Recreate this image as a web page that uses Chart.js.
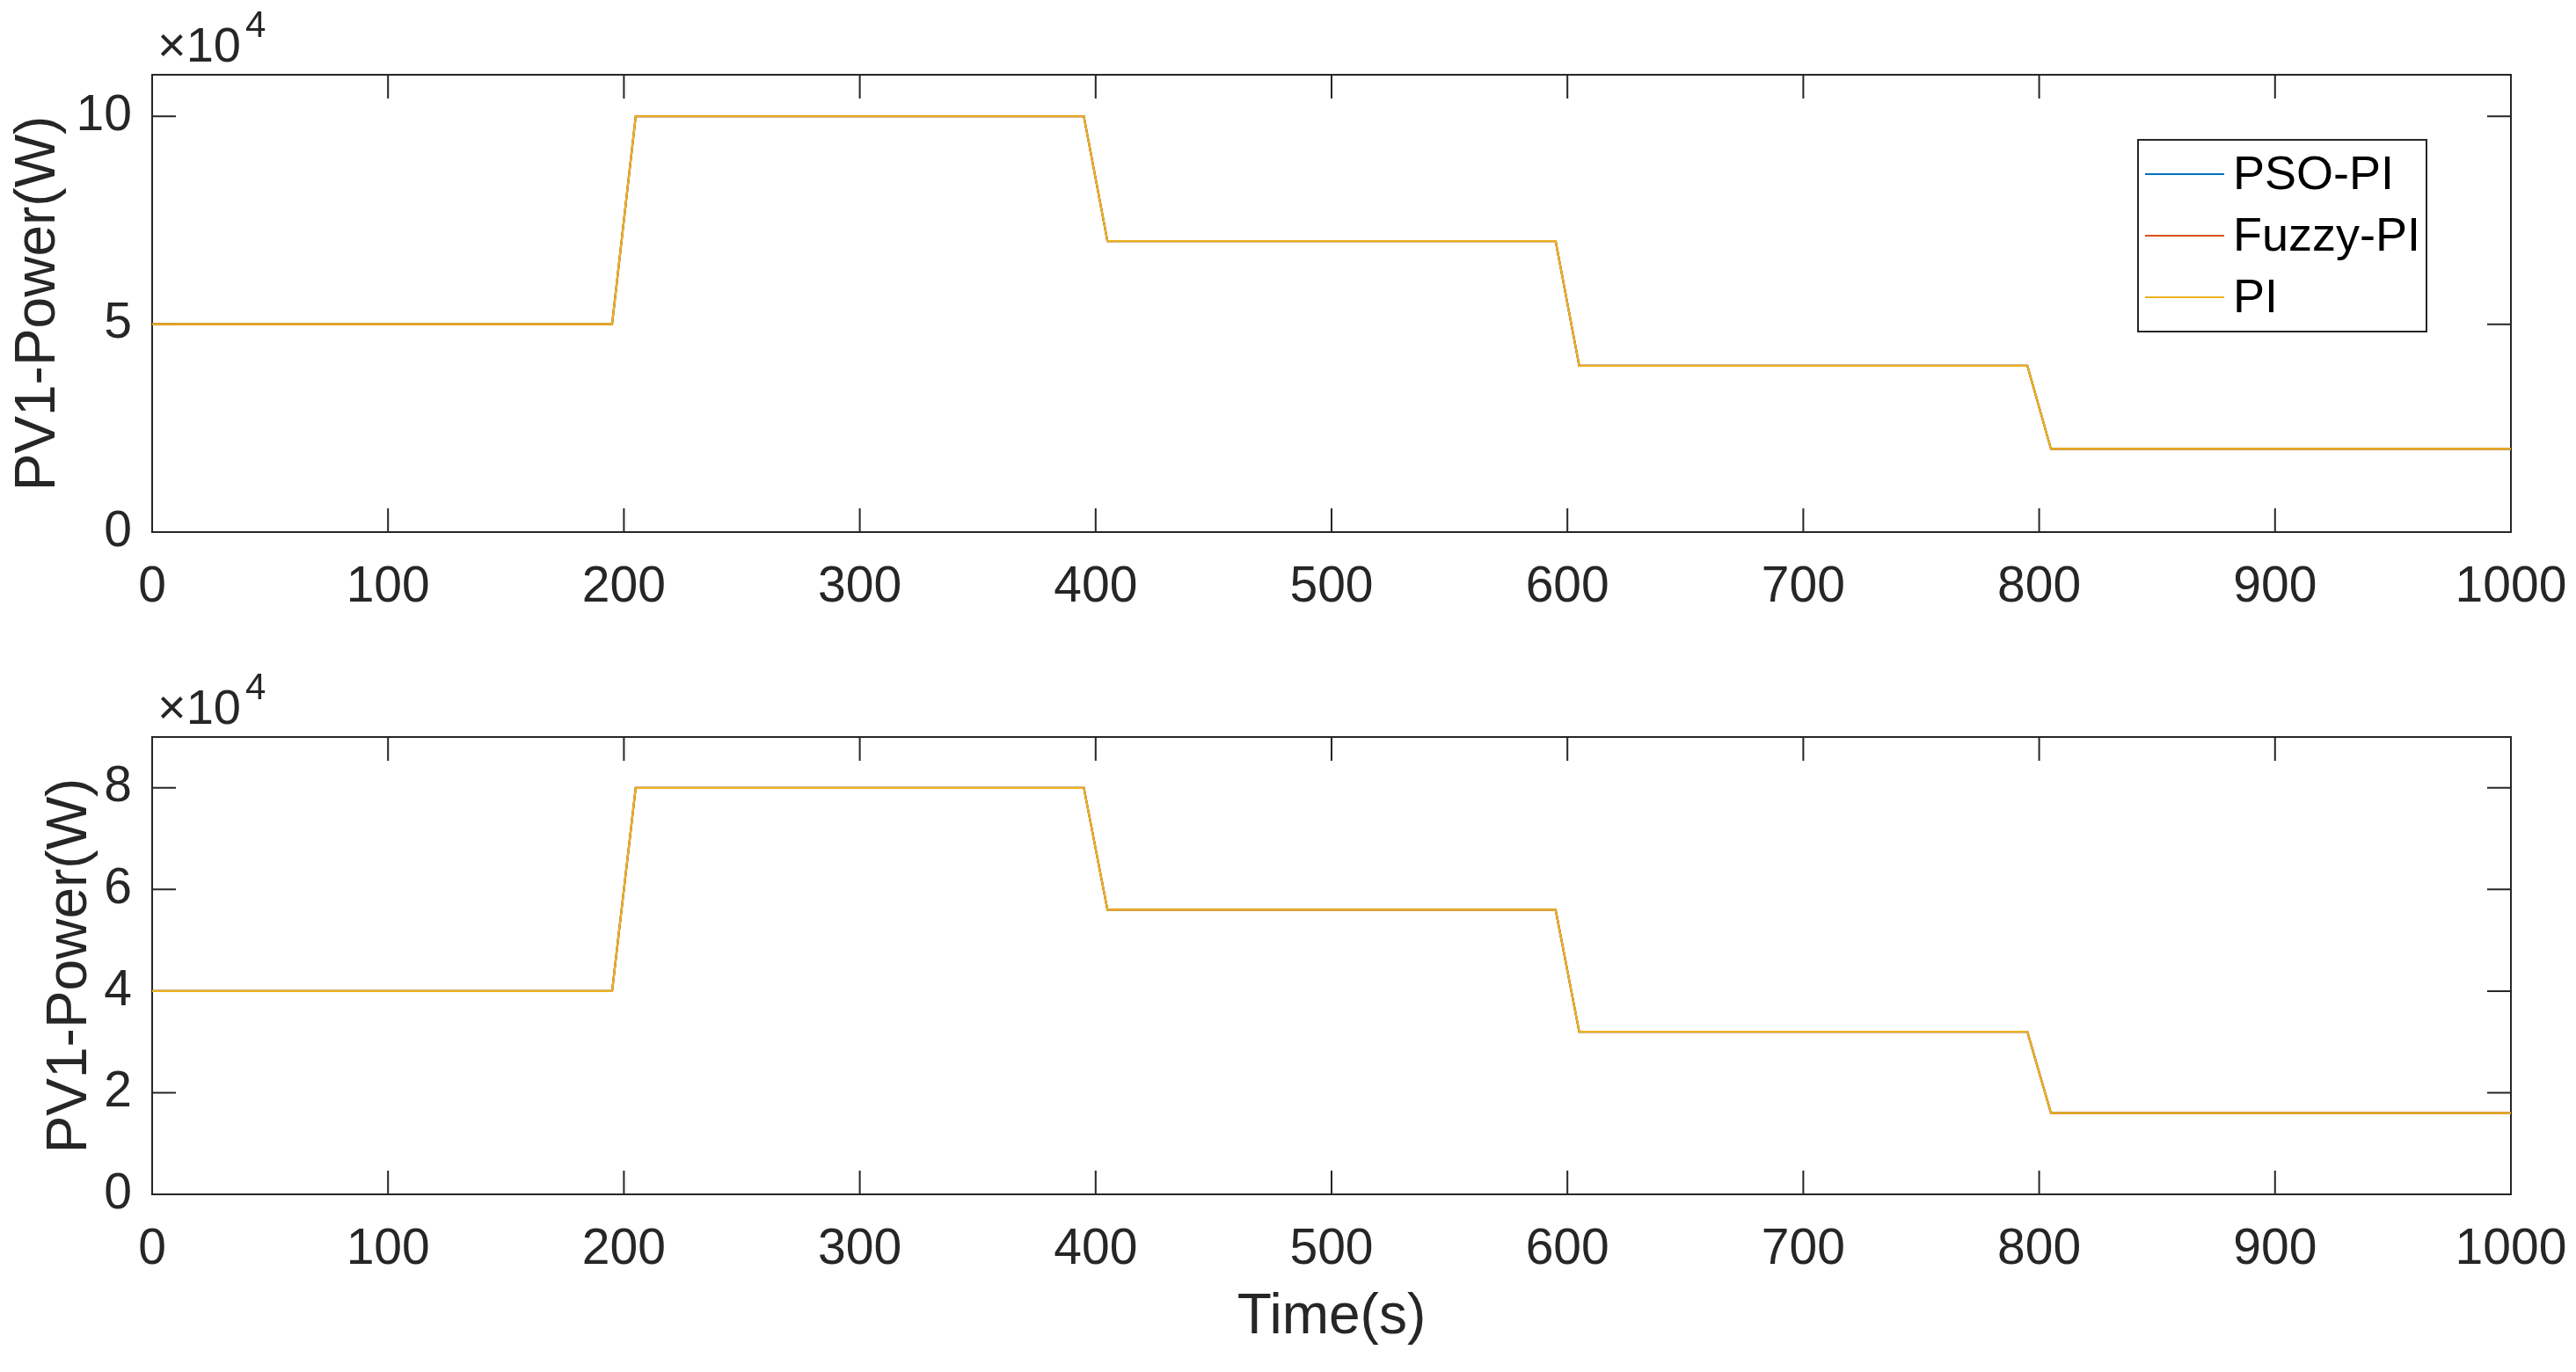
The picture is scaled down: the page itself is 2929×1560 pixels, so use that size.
<!DOCTYPE html>
<html>
<head>
<meta charset="utf-8">
<title>PV1 Power</title>
<script src="https://cdn.jsdelivr.net/npm/chart.js@4.4.1/dist/chart.umd.min.js"></script>
<style>
  html, body { margin: 0; padding: 0; background: #fff; }
  #wrap { position: relative; width: 2929px; height: 1560px; background: #fff; }
  canvas { position: absolute; left: 0; }
  #top-chart { top: 0; }
  #bottom-chart { top: 760px; }
</style>
</head>
<body>
<div id="wrap">
  <canvas id="top-chart" width="2929" height="760"></canvas>
  <canvas id="bottom-chart" width="2929" height="800"></canvas>
</div>
<script>
// time points (s) where the power steps start and finish
const timeSteps = [0, 195, 205, 395, 405, 595, 605, 795, 805, 1000];

// upper plot, power in W
const psoTop   = [50000, 50000, 100000, 100000, 70000, 70000, 40000, 40000, 20000, 20000];
const fuzzyTop = [50000, 50000, 100000, 100000, 70000, 70000, 40000, 40000, 20000, 20000];
const piTop    = [50000, 50000, 100000, 100000, 70000, 70000, 40000, 40000, 20000, 20000];

// lower plot, power in W
const psoBottom   = [40000, 40000, 80000, 80000, 56000, 56000, 32000, 32000, 16000, 16000];
const fuzzyBottom = [40000, 40000, 80000, 80000, 56000, 56000, 32000, 32000, 16000, 16000];
const piBottom    = [40000, 40000, 80000, 80000, 56000, 56000, 32000, 32000, 16000, 16000];

const seriesNames = ['PSO-PI', 'Fuzzy-PI', 'PI'];
const seriesColors = ['#0072BD', '#D95319', '#EDB120'];

// tick labels (y ticks are in units of 10^4 W)
const xTicks = [0, 100, 200, 300, 400, 500, 600, 700, 800, 900, 1000];
const yTicksTop = [0, 5, 10];
const yTicksBottom = [0, 2, 4, 6, 8];

const AXIS_COLOR = '#262626';
const FONT = '"Liberation Sans", Arial, Helvetica, sans-serif';
const TICK_LEN = 27;

function toPoints(values) {
  return timeSteps.map((t, i) => ({ x: t, y: values[i] }));
}

function makeDatasets(seriesList) {
  // PI is drawn last so it sits on top, like in the original figure
  return seriesList.map((values, i) => ({
    label: seriesNames[i],
    data: toPoints(values),
    borderColor: seriesColors[i],
    backgroundColor: seriesColors[i],
    borderWidth: 2.2,
    pointRadius: 0,
    tension: 0,
    fill: false,
    order: seriesList.length - i
  }));
}

// box, inward ticks on all four sides, the x10^4 note and the legend
const matlabAxes = {
  id: 'matlabAxes',
  beforeDatasetsDraw(chart) {
    const { ctx, chartArea: a, scales: { x, y } } = chart;
    ctx.save();
    ctx.strokeStyle = AXIS_COLOR;
    ctx.lineWidth = 2;
    ctx.beginPath();
    x.ticks.forEach(t => {
      const px = x.getPixelForValue(t.value);
      ctx.moveTo(px, a.bottom);
      ctx.lineTo(px, a.bottom - TICK_LEN);
      ctx.moveTo(px, a.top);
      ctx.lineTo(px, a.top + TICK_LEN);
    });
    y.ticks.forEach(t => {
      const py = y.getPixelForValue(t.value);
      ctx.moveTo(a.left, py);
      ctx.lineTo(a.left + TICK_LEN, py);
      ctx.moveTo(a.right, py);
      ctx.lineTo(a.right - TICK_LEN, py);
    });
    ctx.stroke();
    ctx.strokeRect(a.left, a.top, a.right - a.left, a.bottom - a.top);
    ctx.restore();
  },
  afterDraw(chart, args, opts) {
    const { ctx, chartArea: a } = chart;
    ctx.save();
    ctx.fillStyle = AXIS_COLOR;
    ctx.textBaseline = 'alphabetic';
    ctx.textAlign = 'left';

    // exponent label above the y axis
    ctx.font = '56px ' + FONT;
    const baseX = a.left + 6;
    const baseY = a.top - 15;
    ctx.fillText('\u00d710', baseX, baseY);
    const w = ctx.measureText('\u00d710').width;
    ctx.font = '42px ' + FONT;
    ctx.fillText(opts.exponent, baseX + w + 5, baseY - 28);

    if (opts.legend) {
      const bx = a.right - 424;
      const by = a.top + 74;
      const bw = 328;
      const bh = 218;
      ctx.fillStyle = '#fff';
      ctx.fillRect(bx, by, bw, bh);
      ctx.strokeStyle = AXIS_COLOR;
      ctx.lineWidth = 2;
      ctx.strokeRect(bx, by, bw, bh);
      ctx.font = '54px ' + FONT;
      ctx.textBaseline = 'middle';
      chart.data.datasets.forEach((ds, i) => {
        const ly = by + 39 + i * 70;
        ctx.strokeStyle = ds.borderColor;
        ctx.lineWidth = 2.2;
        ctx.beginPath();
        ctx.moveTo(bx + 8, ly);
        ctx.lineTo(bx + 98, ly);
        ctx.stroke();
        ctx.fillStyle = '#000';
        ctx.fillText(ds.label, bx + 108, ly + 2);
      });
    }
    ctx.restore();
  }
};

function makeChart(canvasId, seriesList, yMax, yTickList, cfg) {
  const canvas = document.getElementById(canvasId);
  return new Chart(canvas, {
    type: 'line',
    data: { datasets: makeDatasets(seriesList) },
    plugins: [matlabAxes],
    options: {
      responsive: false,
      animation: false,
      devicePixelRatio: 1,
      layout: { padding: { top: cfg.padTop, right: 74, left: 0, bottom: 0 } },
      plugins: {
        legend: { display: false },
        tooltip: { enabled: false },
        matlabAxes: { exponent: '4', legend: cfg.legend }
      },
      scales: {
        x: {
          type: 'linear',
          min: 0,
          max: 1000,
          afterBuildTicks: scale => { scale.ticks = xTicks.map(v => ({ value: v })); },
          afterFit: scale => {
            scale.height = cfg.xHeight;
            scale.paddingLeft = 0;
            scale.paddingRight = 0;
          },
          grid: { display: false, drawTicks: false },
          border: { display: false },
          ticks: {
            padding: 29,
            maxRotation: 0,
            autoSkip: false,
            color: AXIS_COLOR,
            font: { family: FONT, size: 57 },
            callback: v => String(v)
          },
          title: {
            display: !!cfg.xTitle,
            text: cfg.xTitle || '',
            color: AXIS_COLOR,
            font: { family: FONT, size: 64 },
            padding: { top: 0, bottom: 23 }
          }
        },
        y: {
          type: 'linear',
          min: 0,
          max: yMax,
          afterBuildTicks: scale => { scale.ticks = yTickList.map(v => ({ value: v * 1e4 })); },
          afterFit: scale => { scale.width = 173; },
          grid: { display: false, drawTicks: false },
          border: { display: false },
          ticks: {
            padding: 23,
            autoSkip: false,
            color: AXIS_COLOR,
            font: { family: FONT, size: 57 },
            callback: v => String(v / 1e4)
          },
          title: {
            display: true,
            text: 'PV1-Power(W)',
            color: AXIS_COLOR,
            font: { family: FONT, size: 64 },
            padding: { top: cfg.yTitlePad, bottom: 0 }
          }
        }
      }
    }
  });
}

makeChart('top-chart', [psoTop, fuzzyTop, piTop], 110000, yTicksTop,
  { padTop: 85, xHeight: 155, legend: true, yTitlePad: 6 });

makeChart('bottom-chart', [psoBottom, fuzzyBottom, piBottom], 90000, yTicksBottom,
  { padTop: 78, xHeight: 202, legend: false, yTitlePad: 42, xTitle: 'Time(s)' });
</script>
</body>
</html>
